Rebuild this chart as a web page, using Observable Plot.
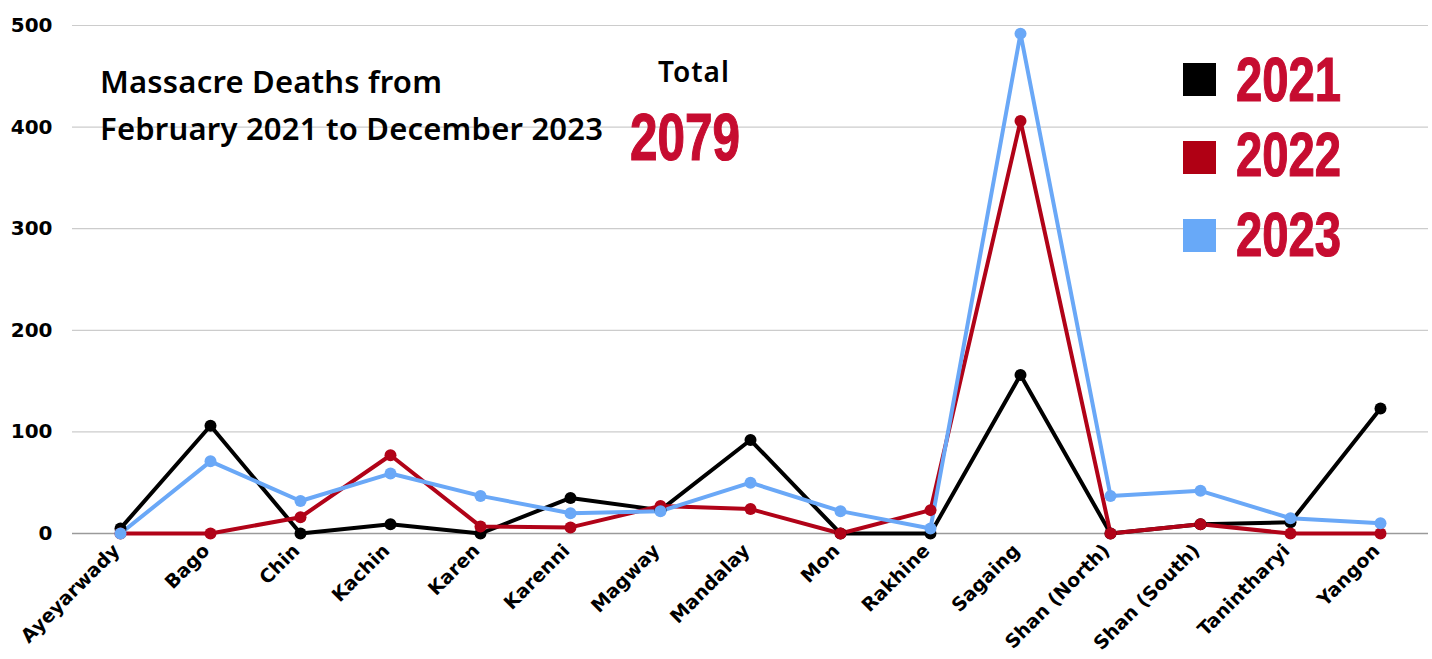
<!DOCTYPE html>
<html>
<head>
<meta charset="utf-8">
<script src="https://cdn.jsdelivr.net/npm/d3@7"></script>
<script src="https://cdn.jsdelivr.net/npm/@observablehq/plot@0.6"></script>
<style>
  html, body { margin: 0; padding: 0; background: #fff; }
  #wrap { position: relative; width: 1432px; height: 659px; overflow: hidden; }
  .ann { position: absolute; white-space: nowrap; line-height: 1; }
  .title { font-family: "Noto Sans", sans-serif; font-weight: 600; font-size: 31px; color: #000; letter-spacing: 0.2px; }
  .total { font-family: "Noto Sans", sans-serif; font-weight: 600; font-size: 28px; color: #000; letter-spacing: 1px; }
  .big { font-family: "Liberation Sans", Arial, sans-serif; font-weight: 700; color: #c60c30; transform-origin: left top; -webkit-text-stroke: 1.2px #c60c30; }
  .sw { position: absolute; width: 33px; height: 33px; }
</style>
</head>
<body>
<div id="wrap"></div>
<script>
const regions = ["Ayeyarwady","Bago","Chin","Kachin","Karen","Karenni","Magway","Mandalay","Mon","Rakhine","Sagaing","Shan (North)","Shan (South)","Tanintharyi","Yangon"];
const deaths2021 = [5,106,0,9,0,35,23,92,0,0,156,0,9,11,123];
const deaths2022 = [0,0,16,77,7,6,27,24,0,23,406,0,9,0,0];
const deaths2023 = [0,71,32,59,37,20,22,50,22,5,492,37,42,15,10];
const years = ["2021","2022","2023"];
const lineColors = ["#000000","#b10318","#6aa8f7"];
const swatchColors = ["#000000","#b00014","#68a9f8"];
const yTicks = [0,100,200,300,400,500];
const titleLines = ["Massacre Deaths from","February 2021 to December 2023"];
const totalLabel = "Total";
const totalValue = "2079";

const series = [deaths2021, deaths2022, deaths2023];
const rows = years.flatMap((yr, i) => regions.map((r, j) => ({region: r, year: yr, value: series[i][j]})));

const tickFont = "'DejaVu Sans', sans-serif";

const chart = Plot.plot({
  width: 1432,
  height: 659,
  marginLeft: 72,
  marginRight: 4,
  marginTop: 25,
  marginBottom: 126,
  style: {fontFamily: tickFont, background: "#fff"},
  x: {type: "point", domain: regions, padding: 0.5},
  y: {domain: [0, 500]},
  color: {domain: years, range: lineColors},
  marks: [
    Plot.gridY(yTicks.filter(d => d > 0), {stroke: "#cccccc", strokeOpacity: 1, strokeWidth: 1.2}),
    Plot.ruleY([0], {stroke: "#9a9a9a", strokeWidth: 1.5}),
    Plot.axisY(yTicks, {tickSize: 0, tickPadding: 20, fontSize: 20, fontWeight: 700, fill: "#000", label: null}),
    Plot.axisX({tickSize: 0, tickRotate: -45, tickPadding: 12, dx: -4, dy: 2, fontSize: 19, fontWeight: 700, fill: "#000", label: null}),
    Plot.line(rows, {x: "region", y: "value", stroke: "year", strokeWidth: 4, curve: "linear"}),
    Plot.dot(rows, {x: "region", y: "value", fill: "year", r: 6})
  ]
});

const wrap = document.getElementById("wrap");
wrap.appendChild(chart);

function addDiv(cls, text, left, top, extra) {
  const d = document.createElement("div");
  d.className = "ann " + cls;
  d.textContent = text;
  d.style.left = left + "px";
  d.style.top = top + "px";
  if (extra) Object.assign(d.style, extra);
  wrap.appendChild(d);
  return d;
}
addDiv("title", titleLines[0], 100, 94 - 31 * 0.888);
addDiv("title", titleLines[1], 100, 141 - 31 * 0.888);
addDiv("total", totalLabel, 658, 82 - 28 * 0.888);
addDiv("big", totalValue, 630, 104, {fontSize: "66px", transform: "scaleX(0.75)"});

years.forEach((yr, i) => {
  const sw = document.createElement("div");
  sw.className = "sw";
  sw.style.left = "1183px";
  sw.style.top = [63, 141, 219][i] + "px";
  sw.style.background = swatchColors[i];
  wrap.appendChild(sw);
  addDiv("big", yr, 1236, [48, 123, 203][i], {fontSize: "63px", transform: "scaleX(0.75)"});
});
</script>
</body>
</html>
